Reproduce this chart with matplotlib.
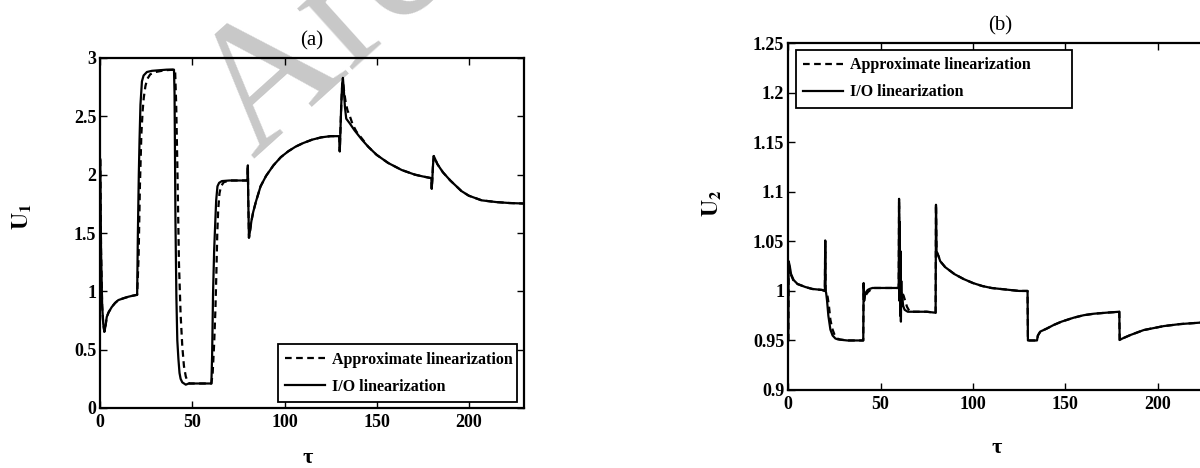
import matplotlib
matplotlib.use("Agg")
import matplotlib.pyplot as plt

plt.rcParams['font.family'] = ['Liberation Serif', 'DejaVu Serif']
plt.rcParams['mathtext.fontset'] = 'stix'

# ---------------- data: panel (a) U1 ----------------
t_a_io = [0, 0.4, 1.0, 1.6, 2.2, 2.8, 3.5, 4.5, 6.2, 8, 9.8, 12.5, 15.3, 17.5, 19.3, 20.0, 20.4, 20.9, 21.3,
          21.8, 22.6, 23.5, 25.3, 28, 32, 36, 40.0, 40.3, 40.8, 41.3, 41.8, 42.4, 43.0, 43.6, 44.5, 46.4, 48,
          52, 56, 60.3, 60.7, 61.2, 61.8, 62.3, 62.9, 63.6, 64.5, 66, 70, 75, 79.9, 80.1, 80.3, 80.7, 81.3,
          82, 83, 84.5, 87, 90, 94, 98, 102, 106, 110, 115, 120, 125, 129.7, 130.0, 130.3, 130.8, 131.3,
          131.7, 132.2, 132.8, 133.5, 135.4, 138, 142, 145.4, 150, 156.3, 163.6, 170.8, 175, 179.7, 179.9,
          180.2, 180.6, 181.0, 181.6, 183, 186, 190, 196, 200, 207, 215, 222, 231]
u1_io = [2.13, 1.35, 0.88, 0.72, 0.654, 0.70, 0.78, 0.82, 0.865, 0.90, 0.925, 0.94, 0.954, 0.962, 0.968,
         0.97, 1.5, 2.0, 2.3, 2.6, 2.8, 2.85, 2.88, 2.89, 2.895, 2.9, 2.9, 2.7, 1.6, 0.95, 0.58, 0.42, 0.3,
         0.25, 0.22, 0.2, 0.21, 0.21, 0.21, 0.21, 0.45, 0.98, 1.35, 1.55, 1.78, 1.9, 1.93, 1.945, 1.95,
         1.95, 1.95, 2.08, 1.8, 1.46, 1.52, 1.6, 1.68, 1.77, 1.9, 1.99, 2.08, 2.15, 2.2, 2.24, 2.27, 2.3,
         2.32, 2.33, 2.33, 2.2, 2.35, 2.6, 2.78, 2.83, 2.72, 2.58, 2.48, 2.44, 2.38, 2.3, 2.24, 2.17, 2.10,
         2.04, 2.0, 1.985, 1.97, 1.88, 1.95, 2.08, 2.16, 2.14, 2.09, 2.02, 1.95, 1.86, 1.82, 1.78, 1.765,
         1.757, 1.752]

t_a_ap = [0, 0.4, 1.0, 1.6, 2.2, 2.8, 3.5, 4.5, 6.2, 8, 9.8, 12.5, 15.3, 17.5, 19.3, 20.0, 20.8, 21.5, 22.3,
          23.0, 23.6, 24.5, 25.5, 27.1, 30, 35, 40.0, 40.6, 41.2, 41.8, 42.7, 43.6, 44.5, 45.4, 46.4, 47.3,
          48.2, 52, 56, 60.3, 61.0, 61.8, 62.5, 63.0, 63.5, 64.0, 64.7, 65.5, 67, 70, 75, 79.9, 80.1, 80.3,
          80.7, 81.3, 82, 83, 84.5, 87, 90, 94, 98, 102, 106, 110, 115, 120, 125, 129.7, 130.0, 130.3,
          130.8, 131.3, 131.7, 132.3, 133.2, 134.2, 135.5, 137, 139, 142, 145.4, 150, 156.3, 163.6, 170.8,
          175, 179.7, 179.9, 180.2, 180.6, 181.0, 181.6, 183, 186, 190, 196, 200, 207, 215, 222, 231]
u1_ap = [2.13, 1.35, 0.88, 0.72, 0.654, 0.70, 0.78, 0.82, 0.865, 0.90, 0.925, 0.94, 0.954, 0.962, 0.968,
         0.97, 1.3, 1.9, 2.35, 2.55, 2.66, 2.76, 2.82, 2.86, 2.88, 2.895, 2.9, 2.9, 2.6, 2.1, 1.24, 0.8,
         0.53, 0.36, 0.27, 0.23, 0.21, 0.21, 0.21, 0.21, 0.3, 0.55, 0.85, 1.15, 1.5, 1.7, 1.84, 1.9,
         1.935, 1.95, 1.95, 1.95, 2.08, 1.8, 1.46, 1.52, 1.6, 1.68, 1.77, 1.9, 1.99, 2.08, 2.15, 2.2,
         2.24, 2.27, 2.3, 2.32, 2.33, 2.33, 2.2, 2.35, 2.6, 2.76, 2.8, 2.72, 2.62, 2.55, 2.5, 2.43, 2.37,
         2.31, 2.24, 2.17, 2.10, 2.04, 2.0, 1.985, 1.97, 1.88, 1.95, 2.08, 2.16, 2.14, 2.09, 2.02, 1.95,
         1.86, 1.82, 1.78, 1.765, 1.757, 1.752]

# ---------------- data: panel (b) U2 ----------------
t_b_io = [0, 0.2, 0.8, 1.5, 2.9, 5, 9.2, 13, 18.3, 19.8, 20.0, 20.2, 20.5, 21.0, 21.7, 22.8, 24, 25.5, 27,
          32, 36, 40.6, 40.8, 41.1, 41.5, 42.2, 43, 44, 45.6, 50, 55, 59.8, 60.0, 60.2, 60.4, 60.6, 60.8,
          61.0, 61.2, 61.4, 61.7, 62.2, 63, 64.7, 70, 75, 79.8, 80.0, 80.3, 81.4, 82.3, 85, 90, 95, 100,
          105, 110, 115, 120, 125, 129.6, 129.8, 131, 134.7, 135.2, 136.5, 140, 143.7, 148, 154.6, 160,
          165.5, 172, 179.3, 179.5, 181, 185.3, 192.5, 203.3, 212, 223, 230]
u2_io = [0.95, 1.03, 1.025, 1.017, 1.011, 1.007, 1.004, 1.002, 1.001, 1.0, 1.051, 1.0, 0.998, 0.99, 0.975,
         0.961, 0.955, 0.952, 0.951, 0.95, 0.95, 0.95, 1.008, 0.99, 0.996, 0.999, 1.001, 1.002, 1.003,
         1.003, 1.003, 1.003, 1.093, 0.99, 1.07, 0.975, 1.04, 0.969, 1.01, 0.985, 0.995, 0.985, 0.981,
         0.979, 0.979, 0.979, 0.978, 1.087, 1.04, 1.035, 1.03, 1.024, 1.017, 1.012, 1.008, 1.005, 1.003,
         1.002, 1.001, 1.0, 1.0, 0.95, 0.95, 0.95, 0.955, 0.959, 0.962, 0.9656, 0.969, 0.973, 0.9755,
         0.977, 0.978, 0.979, 0.9505, 0.952, 0.9555, 0.9605, 0.9645, 0.9665, 0.968, 0.9685]

t_b_ap = [0, 0.2, 0.8, 1.5, 2.9, 5, 9.2, 13, 18.3, 19.8, 20.0, 20.2, 20.6, 21.3, 22.0, 22.8, 23.8, 25, 26.5,
          28, 32, 36, 40.6, 40.8, 41.1, 41.6, 42.4, 43.2, 44.5, 46, 50, 55, 59.8, 60.0, 60.2, 60.4, 60.6,
          60.8, 61.0, 61.3, 61.8, 62.5, 63.3, 64.3, 65.2, 66.1, 70, 75, 79.8, 80.0, 80.3, 81.4, 82.3, 85,
          90, 95, 100, 105, 110, 115, 120, 125, 129.6, 129.8, 131, 134.7, 135.2, 136.5, 140, 143.7, 148,
          154.6, 160, 165.5, 172, 179.3, 179.5, 181, 185.3, 192.5, 203.3, 212, 223, 230]
u2_ap = [0.95, 1.028, 1.022, 1.016, 1.010, 1.007, 1.004, 1.002, 1.001, 1.0, 1.05, 1.0, 0.999, 0.994, 0.985,
         0.971, 0.962, 0.956, 0.952, 0.951, 0.95, 0.95, 0.95, 1.006, 0.992, 0.994, 0.997, 0.999, 1.001,
         1.003, 1.003, 1.003, 1.003, 1.09, 1.0, 1.06, 0.99, 1.02, 0.985, 1.0, 0.998, 0.995, 0.99, 0.984,
         0.981, 0.979, 0.979, 0.979, 0.978, 1.087, 1.04, 1.035, 1.03, 1.024, 1.017, 1.012, 1.008, 1.005,
         1.003, 1.002, 1.001, 1.0, 1.0, 0.95, 0.95, 0.95, 0.955, 0.959, 0.962, 0.9656, 0.969, 0.973,
         0.9755, 0.977, 0.978, 0.979, 0.9505, 0.952, 0.9555, 0.9605, 0.9645, 0.9665, 0.968, 0.9685]

xticks = [0, 50, 100, 150, 200]
yticks_a = [0, 0.5, 1, 1.5, 2, 2.5, 3]
yticks_a_lbl = ['0', '0.5', '1', '1.5', '2', '2.5', '3']
yticks_b = [0.9, 0.95, 1.0, 1.05, 1.1, 1.15, 1.2, 1.25]
yticks_b_lbl = ['0.9', '0.95', '1', '1.05', '1.1', '1.15', '1.2', '1.25']
leg_labels = ['Approximate linearization', 'I/O linearization']

W, H = 1200, 468
fig = plt.figure(figsize=(W / 100, H / 100), dpi=100)

# watermark
fig.text(254 / W, 1 - 160 / H, 'Archive of SID', fontsize=130, color='#c8c8c8', rotation=42,
         rotation_mode='anchor', ha='left', va='baseline', zorder=-5, family='Liberation Serif')

def px_axes(x0, x1, ytop, ybot):
    return fig.add_axes([x0 / W, 1 - ybot / H, (x1 - x0) / W, (ybot - ytop) / H])

ax1 = px_axes(100.3, 524, 58, 408)
ax2 = px_axes(788.3, 1212.9, 43.3, 390)

dash = (3, 2)
lw = 1.6
for ax, t_ap, y_ap, t_io, y_io in [(ax1, t_a_ap, u1_ap, t_a_io, u1_io), (ax2, t_b_ap, u2_ap, t_b_io, u2_io)]:
    ax.set_facecolor('none')
    ax.plot(t_ap, y_ap, color='black', lw=lw, linestyle=(0, dash), label=leg_labels[0])
    ax.plot(t_io, y_io, color='black', lw=lw, linestyle='-', label=leg_labels[1])
    ax.set_xlim(0, 230)
    ax.set_xticks(xticks)
    ax.set_xticklabels([str(v) for v in xticks])
    ax.tick_params(direction='in', top=True, right=True, length=5, width=1.0,
                   labelsize=13, pad=4)
    ax.tick_params(axis='y', pad=3)
    for lab in ax.get_xticklabels() + ax.get_yticklabels():
        lab.set_fontweight('bold')
    for s in ax.spines.values():
        s.set_linewidth(1.6)

ax1.set_ylim(0, 3)
ax1.set_yticks(yticks_a)
ax1.set_yticklabels(yticks_a_lbl, fontweight='bold')
ax2.set_ylim(0.9, 1.25)
ax2.set_yticks(yticks_b)
ax2.set_yticklabels(yticks_b_lbl, fontweight='bold')

ax1.set_title('(a)', fontsize=15, pad=9)
ax2.set_title('(b)', fontsize=15, pad=9)

ax1.set_xlabel('τ', fontsize=16, fontweight='bold', va='baseline')
ax2.set_xlabel('τ', fontsize=16, fontweight='bold', va='baseline')
ax1.xaxis.set_label_coords((308 - 100.3) / 423.7, -(463 - 408) / 350)
ax2.xaxis.set_label_coords((997 - 788.3) / 424.6, -(453 - 390) / 346.7)

ax1.set_ylabel(r'$\mathbf{U_1}$', fontsize=17, va='center', ha='center')
ax2.set_ylabel(r'$\mathbf{U_2}$', fontsize=17, va='center', ha='center')
ax1.yaxis.set_label_coords(-(100.3 - 22) / 423.7, (408 - 217) / 350)
ax2.yaxis.set_label_coords(-(788.3 - 712) / 424.6, (390 - 203) / 346.7)

leg_kw = dict(mode='expand', frameon=True, fancybox=False, framealpha=1, edgecolor='black',
              prop={'family': 'Liberation Serif', 'weight': 'bold', 'size': 11.5},
              handlelength=2.5, handletextpad=0.4, borderpad=0.45, labelspacing=0.7,
              borderaxespad=0)
lg1 = ax1.legend(loc='lower left', bbox_to_anchor=((278 - 100.3) / 423.7, (408 - 402) / 350,
                                                   (517 - 278) / 423.7, 0.2), **leg_kw)
lg2 = ax2.legend(loc='upper left', bbox_to_anchor=((796 - 788.3) / 424.6, (390 - 107) / 346.7,
                                                   (1072 - 796) / 424.6, (107 - 50) / 346.7), **leg_kw)
for lg in (lg1, lg2):
    lg.get_frame().set_linewidth(1.3)

fig.savefig('out.png', dpi=100)
